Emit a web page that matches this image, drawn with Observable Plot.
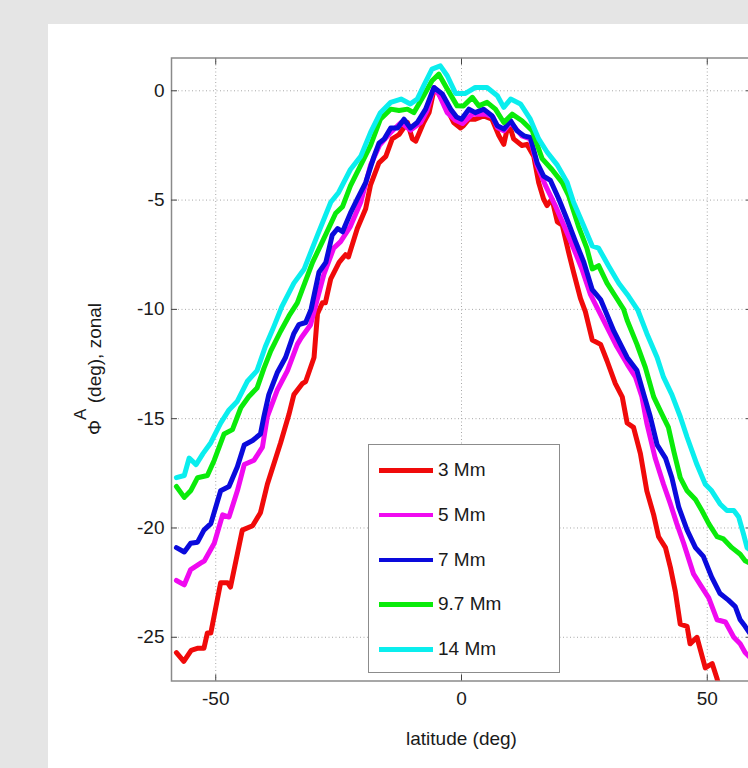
<!DOCTYPE html>
<html><head><meta charset="utf-8">
<script src="https://cdn.jsdelivr.net/npm/d3@7"></script>
<script src="https://cdn.jsdelivr.net/npm/@observablehq/plot@0.6"></script>
<style>
html,body{margin:0;padding:0;width:748px;height:768px;overflow:hidden;background:#e5e5e5;font-family:"Liberation Sans",Arial,Helvetica,sans-serif;}
#panel{position:absolute;left:48px;top:24px;width:700px;height:744px;background:#fff;overflow:hidden;}
#legend{position:absolute;left:320px;top:420px;width:190px;height:227px;background:#fff;border:1px solid #8c8c8c;}
.entry{position:absolute;left:0;height:24px;width:190px;}
.entry .sw{position:absolute;left:10px;top:10px;width:54px;height:4.5px;}
.entry .lb{position:absolute;left:69px;top:0;line-height:24px;font-size:19px;color:#1a1a1a;white-space:nowrap;}
</style></head>
<body><div id="panel"></div>
<script>
// ---- data ----
const legendLabels = ["3 Mm", "5 Mm", "7 Mm", "9.7 Mm", "14 Mm"];
const seriesColors = ["#f00a0a", "#f00af0", "#0a0adc", "#0aeb0a", "#0aeeee"];
const xTicks = [-50, 0, 50];
const yTicks = [0, -5, -10, -15, -20, -25];
const xLabel = "latitude (deg)";

const depth3 = [[-58.0,-25.7],[-56.5,-26.1],[-55.0,-25.6],[-53.6,-25.5],[-52.4,-25.5],[-51.7,-24.8],[-51.0,-24.8],[-49.0,-22.5],[-47.6,-22.5],[-47.0,-22.7],[-44.6,-20.1],[-42.5,-19.9],[-40.9,-19.3],[-39.5,-18.0],[-36.8,-16.1],[-35.1,-14.8],[-34.1,-13.9],[-32.4,-13.4],[-31.7,-13.3],[-30.0,-12.2],[-29.3,-10.2],[-28.3,-9.7],[-27.7,-9.7],[-26.6,-8.6],[-24.9,-7.85],[-23.6,-7.5],[-23.0,-7.6],[-21.2,-6.3],[-19.5,-5.4],[-18.5,-4.3],[-16.8,-3.3],[-15.4,-3.0],[-14.1,-2.2],[-12.7,-2.0],[-11.0,-1.45],[-10.0,-2.2],[-9.3,-2.3],[-7.7,-1.45],[-6.6,-1.0],[-5.6,0.05],[-4.7,-0.1],[-2.9,-0.85],[-1.6,-1.45],[-0.2,-1.7],[0.4,-1.6],[1.5,-1.3],[2.8,-1.3],[4.5,-1.15],[6.2,-1.3],[7.6,-2.05],[8.6,-2.45],[9.6,-1.45],[10.6,-2.2],[12.3,-2.5],[13.3,-2.45],[14.7,-3.0],[15.7,-4.2],[16.7,-4.95],[17.4,-5.25],[18.4,-4.95],[19.5,-6.0],[20.5,-6.15],[21.8,-7.4],[22.8,-8.3],[24.2,-9.5],[25.2,-10.1],[26.6,-11.4],[28.3,-11.6],[29.6,-12.35],[31.3,-13.4],[32.7,-14.0],[33.7,-15.2],[35.0,-15.4],[36.4,-16.6],[37.7,-18.3],[39.1,-19.4],[40.1,-20.4],[41.5,-20.9],[42.5,-21.8],[43.5,-22.9],[44.5,-24.4],[45.9,-24.5],[46.5,-25.3],[47.9,-25.0],[49.6,-26.4],[51.0,-26.2],[52.0,-26.9],[52.8,-27.6]];
const depth5 = [[-58.0,-22.4],[-56.4,-22.6],[-55.1,-21.9],[-53.0,-21.6],[-52.3,-21.5],[-50.3,-20.7],[-48.6,-19.4],[-47.3,-19.5],[-45.6,-18.3],[-44.2,-17.1],[-42.2,-16.9],[-40.5,-16.3],[-39.5,-14.9],[-37.5,-13.7],[-35.4,-12.8],[-33.4,-11.6],[-32.6,-11.3],[-30.7,-10.7],[-29.3,-9.5],[-28.0,-8.4],[-26.0,-7.2],[-24.6,-6.9],[-22.6,-6.2],[-20.5,-5.1],[-18.5,-3.4],[-16.7,-2.5],[-14.4,-1.9],[-12.3,-1.45],[-10.4,-1.8],[-8.3,-1.45],[-7.0,-0.9],[-5.6,0.15],[-4.5,-0.2],[-2.9,-1.0],[-1.2,-1.35],[0.2,-1.5],[2.2,-1.07],[4.9,-1.07],[6.4,-1.2],[7.3,-1.68],[8.6,-1.83],[10.0,-1.45],[12.3,-2.06],[14.0,-2.2],[15.4,-3.43],[17.1,-4.34],[19.1,-5.26],[21.1,-6.3],[22.8,-7.2],[24.5,-8.15],[26.2,-9.3],[28.9,-10.5],[31.6,-11.7],[33.7,-12.5],[35.4,-13.1],[36.7,-14.0],[37.7,-15.2],[39.4,-16.8],[41.1,-18.0],[42.5,-18.9],[43.8,-19.8],[45.2,-20.7],[47.2,-22.1],[48.6,-22.6],[50.3,-23.2],[52.0,-24.2],[53.7,-24.3],[55.4,-25.0],[56.7,-25.3],[57.7,-25.7],[58.6,-25.9]];
const depth7 = [[-58.0,-20.9],[-56.4,-21.1],[-55.1,-20.7],[-53.7,-20.65],[-52.4,-20.1],[-51.0,-19.8],[-49.0,-18.3],[-47.3,-18.1],[-45.6,-17.2],[-44.2,-16.2],[-42.5,-16.0],[-40.9,-15.7],[-40.2,-14.9],[-39.2,-13.9],[-37.5,-12.9],[-35.8,-12.2],[-34.1,-11.1],[-33.1,-10.7],[-31.7,-10.6],[-30.6,-10.0],[-29.0,-8.3],[-27.6,-7.85],[-26.3,-6.6],[-25.2,-6.3],[-24.2,-6.45],[-22.6,-5.6],[-21.2,-4.95],[-19.5,-4.2],[-17.8,-3.0],[-16.8,-2.4],[-15.7,-2.2],[-14.4,-1.7],[-13.0,-1.7],[-11.7,-1.3],[-10.4,-1.7],[-9.0,-1.45],[-7.3,-0.84],[-5.6,0.15],[-3.9,-0.15],[-2.2,-0.84],[-1.0,-1.2],[0.0,-1.3],[1.5,-0.84],[2.8,-1.0],[4.5,-0.84],[6.2,-1.14],[7.3,-1.6],[8.6,-1.75],[10.0,-1.37],[11.3,-1.83],[12.7,-2.06],[14.0,-2.13],[15.4,-3.3],[16.7,-3.9],[18.1,-4.1],[19.8,-4.95],[21.5,-5.9],[23.2,-6.9],[24.9,-7.85],[26.6,-9.1],[28.3,-9.55],[31.0,-11.0],[33.7,-12.2],[35.7,-12.8],[37.1,-13.9],[38.4,-14.9],[39.8,-16.2],[41.5,-16.8],[42.8,-17.7],[44.2,-19.05],[45.9,-20.1],[47.6,-20.9],[49.2,-21.3],[50.9,-22.25],[52.6,-23.0],[54.3,-23.3],[55.7,-23.6],[56.7,-24.2],[57.7,-24.5],[58.6,-24.8]];
const depth97 = [[-58.0,-18.1],[-56.4,-18.6],[-55.1,-18.3],[-53.7,-17.7],[-51.7,-17.6],[-50.3,-16.9],[-48.3,-15.7],[-46.6,-15.5],[-44.9,-14.5],[-43.3,-14.0],[-41.6,-13.6],[-40.2,-12.7],[-38.8,-11.9],[-36.8,-11.0],[-35.1,-10.3],[-33.4,-9.7],[-32.4,-9.1],[-30.3,-7.85],[-28.3,-6.9],[-25.6,-5.6],[-24.2,-5.3],[-22.6,-4.35],[-20.5,-3.4],[-18.5,-2.5],[-16.5,-1.3],[-14.4,-0.84],[-12.7,-0.9],[-11.0,-0.84],[-9.7,-1.0],[-7.7,-0.23],[-6.0,0.46],[-4.6,0.76],[-2.9,0.08],[-0.9,-0.69],[0.4,-0.7],[2.2,-0.3],[3.5,-0.69],[5.2,-0.53],[6.9,-0.84],[8.6,-1.45],[10.3,-1.07],[12.3,-1.37],[14.4,-1.83],[16.4,-3.1],[18.4,-3.6],[20.5,-4.2],[21.8,-4.8],[23.8,-6.2],[25.5,-7.2],[26.6,-8.15],[27.9,-8.0],[29.6,-8.8],[31.3,-9.4],[33.0,-10.0],[33.7,-10.5],[35.7,-11.6],[37.4,-12.65],[39.1,-14.0],[40.8,-14.8],[42.1,-15.4],[43.2,-16.5],[44.5,-17.7],[45.9,-18.3],[47.6,-18.7],[48.9,-19.2],[50.3,-19.8],[52.0,-20.4],[53.3,-20.5],[55.0,-20.9],[56.7,-21.2],[57.7,-21.5],[58.6,-21.6]];
const depth14 = [[-58.0,-17.7],[-56.4,-17.6],[-55.4,-16.8],[-54.0,-17.1],[-52.6,-16.6],[-51.0,-16.1],[-49.0,-15.2],[-47.3,-14.6],[-45.6,-14.2],[-43.6,-13.3],[-41.6,-12.8],[-39.9,-11.7],[-38.2,-10.8],[-36.6,-9.9],[-34.1,-8.8],[-32.0,-8.15],[-29.3,-6.6],[-26.6,-5.1],[-25.0,-4.65],[-22.6,-3.6],[-20.5,-3.0],[-18.5,-1.9],[-16.5,-1.0],[-14.4,-0.53],[-12.3,-0.38],[-10.4,-0.6],[-9.0,-0.38],[-7.7,0.23],[-6.0,0.99],[-4.3,1.14],[-2.9,0.69],[-1.2,-0.12],[0.8,-0.12],[2.8,0.15],[5.2,0.15],[7.3,-0.23],[8.6,-0.76],[10.0,-0.38],[12.0,-0.6],[14.0,-1.3],[15.7,-2.2],[17.4,-2.8],[19.5,-3.4],[21.5,-4.2],[22.8,-5.1],[24.9,-6.2],[26.6,-7.1],[27.9,-7.2],[29.9,-8.0],[32.0,-8.8],[34.0,-9.4],[35.9,-10.05],[37.7,-11.1],[39.8,-12.2],[41.1,-13.1],[42.8,-13.9],[44.5,-14.9],[45.9,-15.85],[47.9,-17.1],[49.6,-18.0],[50.9,-18.3],[52.6,-18.9],[54.0,-19.2],[55.4,-19.2],[56.4,-19.5],[57.4,-20.3],[58.1,-20.9],[58.7,-21.0]];

const allSeries = [depth3, depth5, depth7, depth97, depth14];
const rows = allSeries.flatMap((s, i) => s.map(([lat, phi]) => ({series: legendLabels[i], lat, phi})));

const font = '"Liberation Sans", Arial, Helvetica, sans-serif';
const chart = Plot.plot({
  width: 700, height: 744,
  marginLeft: 123, marginRight: -3, marginTop: 33.5, marginBottom: 87.5,
  style: {background: "transparent", fontFamily: font, fontSize: "19px", color: "#1a1a1a", overflow: "hidden"},
  x: {domain: [-59, 59]},
  y: {domain: [-27, 1.5]},
  color: {domain: legendLabels, range: seriesColors},
  marks: [
    Plot.gridX(xTicks, {stroke: "#a8a8a8", strokeOpacity: 1, strokeDasharray: "1,2.5"}),
    Plot.gridY(yTicks, {stroke: "#a8a8a8", strokeOpacity: 1, strokeDasharray: "1,2.5"}),
    Plot.frame({stroke: "#8a8a8a", strokeWidth: 1.5}),
    Plot.axisX(xTicks, {anchor: "bottom", tickSize: 6, dy: -6, tickFormat: () => "", label: null, stroke: "#444"}),
    Plot.axisX(xTicks, {anchor: "top", tickSize: 6, dy: 6, tickFormat: () => "", label: null, stroke: "#444"}),
    Plot.axisY(yTicks, {anchor: "left", tickSize: 6, dx: 6, tickFormat: () => "", label: null, stroke: "#444"}),
    Plot.axisY(yTicks, {anchor: "right", tickSize: 6, dx: -6, tickFormat: () => "", label: null, stroke: "#444"}),
    Plot.axisX(xTicks, {anchor: "bottom", tickSize: 0, tickPadding: 10, tickFormat: d => String(d), label: null, fontSize: 19}),
    Plot.axisY(yTicks, {anchor: "left", tickSize: 0, tickPadding: 7, tickFormat: d => String(d), label: null, fontSize: 19}),
    Plot.line(rows, {x: "lat", y: "phi", z: "series", stroke: "series", strokeWidth: 5, strokeLinejoin: "round", strokeLinecap: "round", clip: true}),
    Plot.text([xLabel], {frameAnchor: "bottom", text: d => d, dy: 58, lineAnchor: "middle", fontSize: 19})
  ]
});
document.getElementById("panel").appendChild(chart);

// y-axis label with superscript
const yr = chart.scale("y").range;
const cy = (yr[0] + yr[1]) / 2;
const ylab = d3.select(chart).append("text")
  .attr("transform", `translate(53,${cy}) rotate(-90)`)
  .attr("text-anchor", "middle")
  .attr("font-family", font).attr("font-size", 19).attr("fill", "#1a1a1a");
ylab.append("tspan").text("Φ");
ylab.append("tspan").attr("dy", -15).attr("font-size", 17).text("A");
ylab.append("tspan").attr("dy", 15).text(" (deg), zonal");

// legend
const legend = document.createElement("div");
legend.id = "legend";
legendLabels.forEach((lab, i) => {
  const e = document.createElement("div");
  e.className = "entry";
  e.style.top = (13 + i * 44.8) + "px";
  const sw = document.createElement("div"); sw.className = "sw"; sw.style.background = seriesColors[i];
  const lb = document.createElement("div"); lb.className = "lb"; lb.textContent = lab;
  e.appendChild(sw); e.appendChild(lb); legend.appendChild(e);
});
document.getElementById("panel").appendChild(legend);
</script></body></html>
